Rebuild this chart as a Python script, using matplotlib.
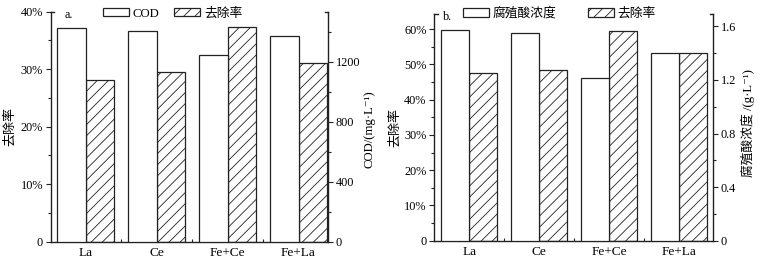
import matplotlib
matplotlib.use("Agg")
import matplotlib.pyplot as plt
from matplotlib.ticker import MultipleLocator, FixedLocator, FuncFormatter

plt.rcParams['font.family'] = ['Liberation Serif', 'Noto Sans CJK SC', 'DejaVu Sans']
plt.rcParams['hatch.linewidth'] = 0.6
plt.rcParams['hatch.color'] = '#444444'

# ---- data ----
categories = ['La', 'Ce', 'Fe+Ce', 'Fe+La']
cod_values = [1423, 1403, 1243, 1369]            # mg/L (right axis, panel a)
cod_removal = [0.282, 0.295, 0.373, 0.310]        # removal rate (left axis, panel a)
humic_values = [1.570, 1.548, 1.214, 1.403]       # g/L (right axis, panel b)
humic_removal = [0.476, 0.484, 0.594, 0.533]      # removal rate (left axis, panel b)

FS = 8.8
XFS = 9.6
LFS = 9.4
EC = '#222222'

fig = plt.figure(figsize=(7.74, 2.66), dpi=100)

def pct(v, pos):
    return '0' if abs(v) < 1e-9 else f'{v*100:.0f}%'

def setup(ax, axr, xlim, ylim, ymaj, ymin, rlim, rmaj, rmin, rfmt):
    ax.set_xlim(*xlim)
    ax.set_ylim(*ylim)
    axr.set_ylim(*rlim)
    for a in (ax, axr):
        a.spines['top'].set_visible(False)
        for s in a.spines.values():
            s.set_linewidth(1.0)
            s.set_color(EC)
    ax.spines['right'].set_visible(False)
    axr.spines['left'].set_visible(False)
    axr.spines['bottom'].set_visible(False)
    ax.set_xticks(range(len(categories)))
    ax.set_xticklabels(categories, fontsize=XFS)
    ax.xaxis.set_minor_locator(FixedLocator([0.5, 1.5, 2.5]))
    ax.tick_params(axis='x', which='major', length=0, pad=4)
    ax.tick_params(axis='x', which='minor', direction='in', length=2.5, width=0.8, color=EC)
    ax.yaxis.set_major_locator(MultipleLocator(ymaj))
    ax.yaxis.set_minor_locator(MultipleLocator(ymin))
    ax.yaxis.set_major_formatter(FuncFormatter(pct))
    ax.tick_params(axis='y', which='major', direction='out', length=3.5, width=0.8, color=EC, labelsize=FS, pad=2)
    ax.tick_params(axis='y', which='minor', direction='out', length=2, width=0.8, color=EC)
    axr.yaxis.set_major_locator(MultipleLocator(rmaj))
    axr.yaxis.set_minor_locator(MultipleLocator(rmin))
    axr.yaxis.set_major_formatter(FuncFormatter(rfmt))
    axr.tick_params(axis='y', which='major', direction='out', length=3.5, width=0.8, color=EC, labelsize=FS, pad=2)
    axr.tick_params(axis='y', which='minor', direction='out', length=2, width=0.8, color=EC)
    # small caps at top of spines
    ax.plot([0, 0.012], [1, 1], transform=ax.transAxes, color=EC, lw=1.0, clip_on=False)
    axr.plot([1, 0.988], [1, 1], transform=axr.transAxes, color=EC, lw=1.0, clip_on=False)

x = list(range(len(categories)))
w = 0.4

# ---- panel a ----
ax1 = fig.add_axes([50.7/774, 24.3/266, 277.6/774, 230/266])
ax1r = ax1.twinx()
setup(ax1, ax1r, (-0.494, 3.42), (0, 0.40), 0.10, 0.05, (0, 1533), 400, 200,
      lambda v, p: f'{v:.0f}')
b1 = ax1r.bar([i - w/2 for i in x], cod_values, width=w, facecolor='white', edgecolor=EC, linewidth=0.9)
b2 = ax1.bar([i + w/2 for i in x], cod_removal, width=w, facecolor='white', edgecolor=EC,
             linewidth=0.9, hatch='///')
ax1.set_ylabel('去除率', fontsize=LFS)
ax1.yaxis.set_label_coords(-0.125, 0.5)
ax1r.set_ylabel('COD/(mg·L⁻¹)', fontsize=FS + 0.4)
ax1r.yaxis.set_label_coords(1.128, 0.49)
ax1.text(0.05, 0.985, 'a.', transform=ax1.transAxes, fontsize=FS, va='center', ha='left')
ax1.legend([b1, b2], ['COD', '去除率'], loc='center left', bbox_to_anchor=(103/774, 1 - 13.5/266),
           bbox_transform=fig.transFigure, ncol=2, frameon=False, fontsize=FS + 0.4,
           handlelength=2.0, handleheight=0.65, handletextpad=0.3, columnspacing=1.2,
           borderpad=0, borderaxespad=0)

# ---- panel b ----
ax2 = fig.add_axes([434.3/774, 25.3/266, 279/774, 227/266])
ax2r = ax2.twinx()
setup(ax2, ax2r, (-0.5, 3.486), (0, 0.644), 0.10, 0.05, (0, 1.695), 0.4, 0.2,
      lambda v, p: '0' if abs(v) < 1e-9 else f'{v:.1f}')
b3 = ax2r.bar([i - w/2 for i in x], humic_values, width=w, facecolor='white', edgecolor=EC, linewidth=0.9)
b4 = ax2.bar([i + w/2 for i in x], humic_removal, width=w, facecolor='white', edgecolor=EC,
             linewidth=0.9, hatch='///')
ax2.set_ylabel('去除率', fontsize=LFS)
ax2.yaxis.set_label_coords(-0.12, 0.5)
ax2r.set_ylabel('腐殖酸浓度 /(g·L⁻¹)', fontsize=FS + 0.4)
ax2r.yaxis.set_label_coords(1.097, 0.518)
ax2.text(0.032, 0.985, 'b.', transform=ax2.transAxes, fontsize=FS, va='center', ha='left')
ax2.legend([b3, b4], ['腐殖酸浓度', '去除率'], loc='center left', bbox_to_anchor=(463.3/774, 1 - 13.5/266),
           bbox_transform=fig.transFigure, ncol=2, frameon=False, fontsize=FS + 0.4,
           handlelength=2.0, handleheight=0.65, handletextpad=0.3, columnspacing=2.5,
           borderpad=0, borderaxespad=0)

fig.savefig('out.png', dpi=100)
